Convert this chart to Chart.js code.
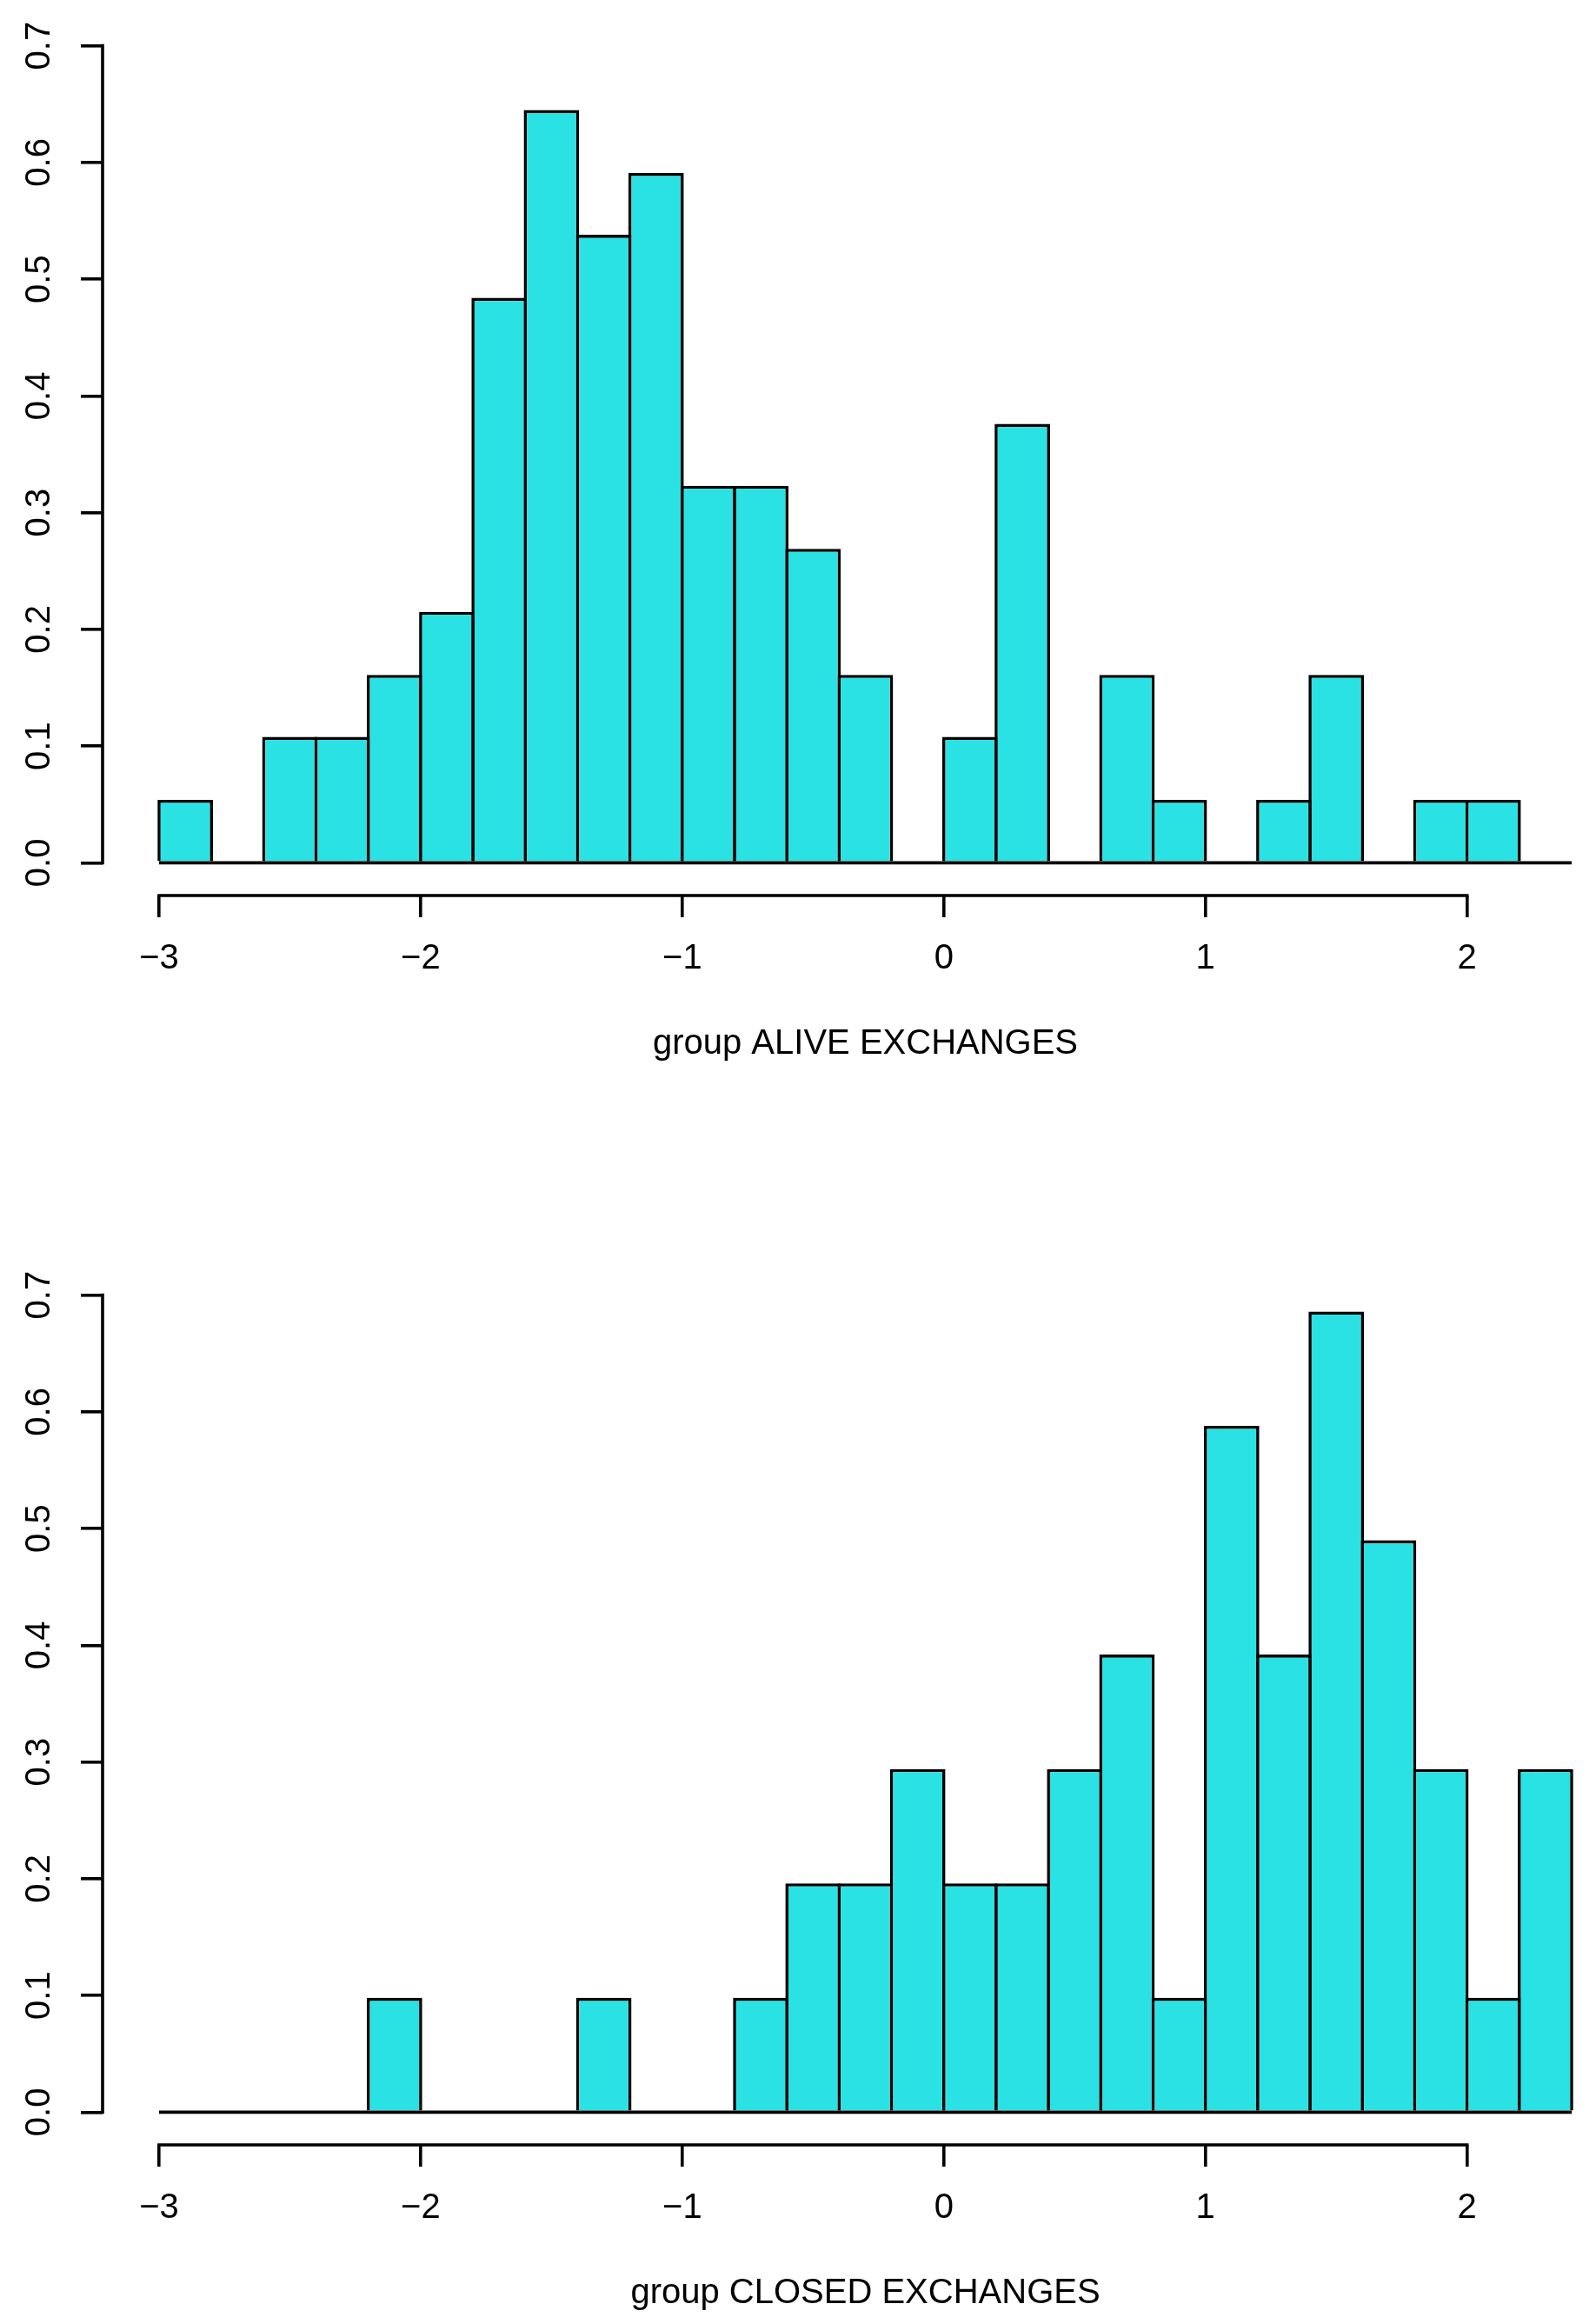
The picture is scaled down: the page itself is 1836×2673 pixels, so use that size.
<!DOCTYPE html>
<html>
<head>
<meta charset="utf-8">
<script src="https://cdn.jsdelivr.net/npm/chart.js@4.4.1/dist/chart.umd.min.js"></script>
<style>
  html, body { margin: 0; padding: 0; background: #fff; overflow: hidden; }
  .panel { width: 1836px; overflow: hidden; }
  #top { height: 1437px; }
  #bottom { height: 1236px; }
  canvas { display: block; }
</style>
</head>
<body>
<!-- the R plot region runs past the right edge of the picture, so the canvas is wider and clipped -->
<div class="panel" id="top"><canvas id="alive" width="1873" height="1437"></canvas></div>
<div class="panel" id="bottom"><canvas id="closed" width="1873" height="1437"></canvas></div>
<script>
// histogram bins (width 0.2)
const binEdges = [-3.0, -2.8, -2.6, -2.4, -2.2, -2.0, -1.8, -1.6, -1.4, -1.2, -1.0,
                  -0.8, -0.6, -0.4, -0.2, 0.0, 0.2, 0.4, 0.6, 0.8, 1.0,
                  1.2, 1.4, 1.6, 1.8, 2.0, 2.2, 2.4];

// density per bin
const aliveDensity  = [0.054, 0, 0.108, 0.108, 0.161, 0.215, 0.484, 0.645, 0.538, 0.591,
                       0.323, 0.323, 0.269, 0.161, 0, 0.108, 0.376, 0, 0.161, 0.054,
                       0, 0.054, 0.161, 0, 0.054, 0.054, 0];
const closedDensity = [0, 0, 0, 0, 0.098, 0, 0, 0, 0.098, 0,
                       0, 0.098, 0.196, 0.196, 0.294, 0.196, 0.196, 0.294, 0.392, 0.098,
                       0.588, 0.392, 0.686, 0.490, 0.294, 0.098, 0.294];

const xTicks = [-3, -2, -1, 0, 1, 2];
const xTickLabels = ['\u22123', '\u22122', '\u22121', '0', '1', '2'];
const yTicks = [0, 0.1, 0.2, 0.3, 0.4, 0.5, 0.6, 0.7];
const yTickLabels = ['0.0', '0.1', '0.2', '0.3', '0.4', '0.5', '0.6', '0.7'];

const FILL = '#2ae2e4';
const LW = 3.6;

Chart.defaults.font.family = '"Liberation Sans", Arial, Helvetica, sans-serif';
Chart.defaults.font.size = 40;
Chart.defaults.color = '#000';

// R style axis lines: only from first to last tick
const rAxisLines = {
    id: 'rAxisLines',
    afterDraw(chart) {
        const ctx = chart.ctx;
        const xs = chart.scales.x, ys = chart.scales.y;
        const area = chart.chartArea;
        ctx.save();
        ctx.strokeStyle = '#000';
        ctx.lineWidth = LW;
        ctx.lineCap = 'square';
        ctx.beginPath();
        ctx.moveTo(xs.getPixelForValue(xTicks[0]), area.bottom);
        ctx.lineTo(xs.getPixelForValue(xTicks[xTicks.length - 1]), area.bottom);
        ctx.moveTo(area.left, ys.getPixelForValue(yTicks[0]));
        ctx.lineTo(area.left, ys.getPixelForValue(yTicks[yTicks.length - 1]));
        ctx.stroke();
        ctx.restore();
    }
};

function drawHist(canvasId, density, title) {
    const bars = density.map((d, i) => ({ x: (binEdges[i] + binEdges[i + 1]) / 2, y: d }));
    const base = [{ x: binEdges[0], y: 0 }, { x: binEdges[binEdges.length - 1], y: 0 }];

    return new Chart(document.getElementById(canvasId), {
        type: 'bar',
        data: {
            datasets: [
                {
                    type: 'line',
                    data: base,
                    borderColor: '#000',
                    borderWidth: LW,
                    pointRadius: 0,
                    order: 0
                },
                {
                    data: bars,
                    backgroundColor: FILL,
                    borderColor: '#000',
                    borderWidth: LW,
                    barPercentage: 1.06,
                    categoryPercentage: 1,
                    inflateAmount: 0,
                    order: 1
                }
            ]
        },
        options: {
            responsive: false,
            animation: false,
            devicePixelRatio: 1,
            events: [],
            layout: { padding: { left: 0, top: 15, right: 0, bottom: 0 } },
            plugins: { legend: { display: false }, tooltip: { enabled: false } },
            scales: {
                x: {
                    type: 'linear',
                    offset: false,
                    min: -3.216,
                    max: 2.616,
                    border: { display: false },
                    grid: { offset: false, drawOnChartArea: false, drawTicks: true, tickLength: 25, color: '#000', lineWidth: LW },
                    ticks: {
                        autoSkip: false,
                        maxRotation: 0,
                        padding: 24,
                        callback: (v, i) => xTickLabels[i]
                    },
                    title: { display: true, text: title, font: { size: 40 }, padding: { top: 0, bottom: 212 } },
                    afterBuildTicks: s => { s.ticks = xTicks.map(v => ({ value: v })); },
                    afterFit: s => { s.height = 407; s.paddingLeft = 0; s.paddingRight = 0; }
                },
                y: {
                    min: -0.028,
                    max: 0.728,
                    border: { display: false },
                    grid: { drawOnChartArea: false, drawTicks: true, tickLength: 25, color: '#000', lineWidth: LW },
                    ticks: {
                        autoSkip: false,
                        minRotation: 90,
                        maxRotation: 90,
                        crossAlign: 'center',
                        padding: 19,
                        callback: (v, i) => yTickLabels[i]
                    },
                    afterBuildTicks: s => { s.ticks = yTicks.map(v => ({ value: v })); },
                    afterFit: s => { s.width = 118; s.paddingTop = 0; s.paddingBottom = 0; }
                }
            }
        },
        plugins: [rAxisLines]
    });
}

drawHist('alive', aliveDensity, 'group ALIVE EXCHANGES');
drawHist('closed', closedDensity, 'group CLOSED EXCHANGES');
</script>
</body>
</html>
